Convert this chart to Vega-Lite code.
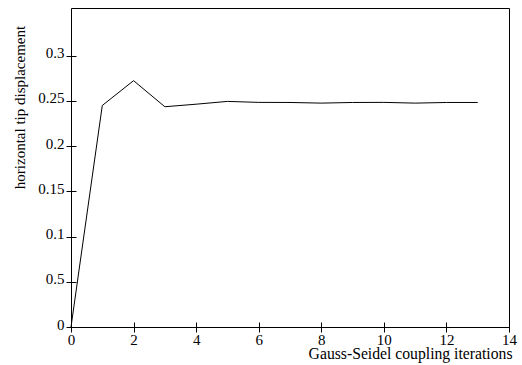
{
  "$schema": "https://vega.github.io/schema/vega-lite/v6.json",
  "width": 438,
  "height": 319,
  "autosize": "none",
  "padding": {"left": 71, "top": 8, "right": 13, "bottom": 38},
  "background": "white",
  "config": {
    "view": {"stroke": "black", "strokeWidth": 1},
    "font": "Liberation Serif",
    "axis": {
      "domain": false,
      "grid": false,
      "offset": -5,
      "tickSize": 10,
      "tickColor": "black",
      "tickWidth": 1,
      "labelFont": "Liberation Serif",
      "labelFontSize": 15,
      "labelColor": "black",
      "titleFont": "Liberation Serif",
      "titleFontSize": 15,
      "titleFontWeight": "normal",
      "titleColor": "black"
    }
  },
  "data": {
    "values": [
      {"iter": 0, "disp": 0.0},
      {"iter": 1, "disp": 0.2448},
      {"iter": 2, "disp": 0.2722},
      {"iter": 3, "disp": 0.2434},
      {"iter": 4, "disp": 0.2462},
      {"iter": 5, "disp": 0.2493},
      {"iter": 6, "disp": 0.2482},
      {"iter": 7, "disp": 0.2481},
      {"iter": 8, "disp": 0.2474},
      {"iter": 9, "disp": 0.2481},
      {"iter": 10, "disp": 0.2482},
      {"iter": 11, "disp": 0.2474},
      {"iter": 12, "disp": 0.2481},
      {"iter": 13, "disp": 0.2481}
    ]
  },
  "mark": {"type": "line", "color": "black", "strokeWidth": 1},
  "encoding": {
    "x": {
      "field": "iter",
      "type": "quantitative",
      "scale": {"domain": [0, 14], "nice": false, "zero": false},
      "axis": {
        "values": [0, 2, 4, 6, 8, 10, 12, 14],
        "labelExpr": "format(datum.value, '~g')",
        "title": "Gauss-Seidel coupling iterations",
        "labelFont": "Liberation Serif",
        "labelPadding": 0,
        "labelFlush": false,
        "labelBaseline": "top",
        "titleFontSize": 15.7,
        "titleAnchor": "end",
        "titleAlign": "right",
        "titleBaseline": "alphabetic",
        "titleX": 441,
        "titleY": 36.5
      }
    },
    "y": {
      "field": "disp",
      "type": "quantitative",
      "scale": {"domain": [0, 0.3525], "nice": false},
      "axis": {
        "values": [0, 0.05, 0.1, 0.15, 0.2, 0.25, 0.3],
        "labelExpr": "datum.value === 0.05 ? '0.5' : format(datum.value, '~g')",
        "title": "horizontal tip displacement",
        "labelFont": "Liberation Serif",
        "labelPadding": 2,
        "labelOffset": -3,
        "labelFlush": false,
        "titleAngle": -90,
        "titleAlign": "center",
        "titleBaseline": "middle",
        "titleX": -57,
        "titleY": 99
      }
    }
  }
}
